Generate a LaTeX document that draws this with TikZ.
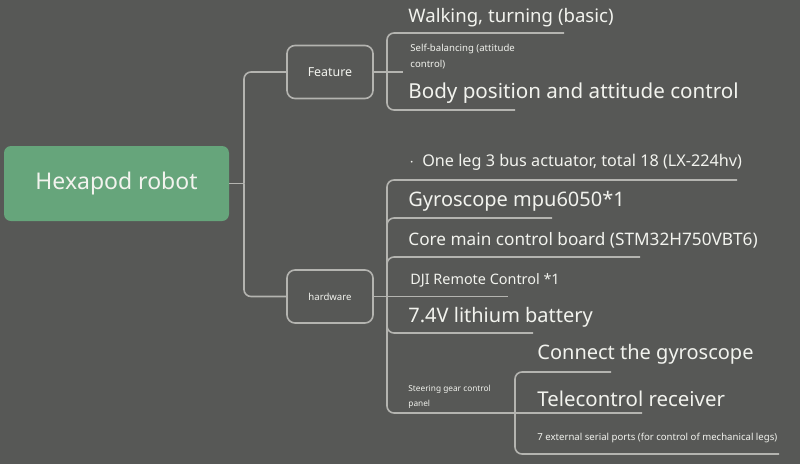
\documentclass[tikz,border=0pt]{standalone}
\usepackage{fontspec}
\setmainfont{Noto Sans}
\usetikzlibrary{positioning}
\definecolor{bg}{HTML}{575856}
\definecolor{rootgreen}{HTML}{66A57B}
\definecolor{linegray}{HTML}{B4B4B0}
\definecolor{ink}{HTML}{F2F3EE}

\begin{document}
\begin{tikzpicture}[x=1pt,y=-1pt,thick,
    branch/.style={draw=linegray,line width=1.6pt,rounded corners=7pt},
    root node/.style={fill=rootgreen,rounded corners=7pt,minimum width=225pt,minimum height=75pt,text=ink,font=\fontsize{23}{27}\selectfont},
    main node/.style={draw=linegray,line width=1.6pt,rounded corners=8pt,minimum width=86pt,minimum height=53pt,text=ink},
    leaf/.style={anchor=west,inner sep=0pt,text=ink,align=left},
    big/.style={font=\fontsize{20}{24}\selectfont},
    small/.style={font=\fontsize{14.4}{17}\selectfont},
    tiny/.style={font=\fontsize{9.6}{15.5}\selectfont}]

    \fill[bg] (0,0) rectangle (800,464);
    \useasboundingbox (0,0) rectangle (800,464);

    \node[root node] (root) at (116.5,183.5) {Hexapod robot};
    \node[main node,font=\fontsize{12.4}{14}\selectfont] (feature) at (330,72) {Feature};
    \node[main node,font=\fontsize{9.6}{12}\selectfont] (hardware) at (330,296.5) {hardware};

    % feature leaves
    \node[leaf,font=\fontsize{18.6}{22}\selectfont] (walk) at (408,17.5) {Walking, turning (basic)};
    \node[leaf,tiny] (sbal) at (410,56.5) {Self-balancing (attitude\\control)};
    \node[leaf,big,font=\fontsize{20.6}{24}\selectfont] (body) at (408,93.5) {Body position and attitude control};

    % hardware leaves
    \node[leaf,font=\fontsize{16.2}{19}\selectfont] (oneleg) at (409,162.5) {$\cdot$\enspace One leg 3 bus actuator, total 18 (LX-224hv)};
    \node[leaf,big] (gyro) at (408,201.5) {Gyroscope mpu6050*1};
    \node[leaf,font=\fontsize{17.2}{20}\selectfont] (core) at (408,240.5) {Core main control board (STM32H750VBT6)};
    \node[leaf,small] (dji) at (410,280.5) {DJI Remote Control *1};
    \node[leaf,big] (batt) at (408,317.5) {7.4V lithium battery};
    \node[leaf,tiny,font=\fontsize{8.3}{14.5}\selectfont] (steer) at (408,397) {Steering gear control\\panel};

    % steering gear leaves
    \node[leaf,big] (conn) at (537,354.5) {Connect the gyroscope};
    \node[leaf,big,font=\fontsize{20.4}{24}\selectfont] (tele) at (537,398.5) {Telecontrol receiver};
    \node[leaf,tiny] (serial) at (537,438) {7 external serial ports (for control of mechanical legs)};

    % hubs and underline ends
    \coordinate (rhub) at (244,183.5);
    \coordinate (fhub) at (387,72);
    \coordinate (hhub) at (387,296.5);
    \coordinate (shub) at (515,413);
    \coordinate (walk-e) at (564,33);
    \coordinate (sbal-e) at (403,72);
    \coordinate (body-e) at (515,110);
    \coordinate (oneleg-e) at (737,180);
    \coordinate (gyro-e) at (552,218);
    \coordinate (core-e) at (640,257);
    \coordinate (dji-e) at (508,296.5);
    \coordinate (batt-e) at (533,333);
    \coordinate (conn-e) at (611,372);
    \coordinate (tele-e) at (642,413);
    \coordinate (serial-e) at (779,454);

    \draw[branch] (root.east) -- (rhub);
    \draw[branch] (rhub) |- (feature.west);
    \draw[branch] (rhub) |- (hardware.west);

    \draw[branch] (feature.east) -- (sbal-e);
    \draw[branch] (fhub) |- (walk-e);
    \draw[branch] (fhub) |- (body-e);

    \draw[branch] (hardware.east) -- (dji-e);
    \foreach \leaf in {oneleg,gyro,core,batt}
        \draw[branch] (hhub) |- (\leaf-e);
    \draw[branch] (hhub) |- (shub) -- (tele-e);

    \draw[branch] (shub) |- (conn-e);
    \draw[branch] (shub) |- (serial-e);
\end{tikzpicture}
\end{document}
